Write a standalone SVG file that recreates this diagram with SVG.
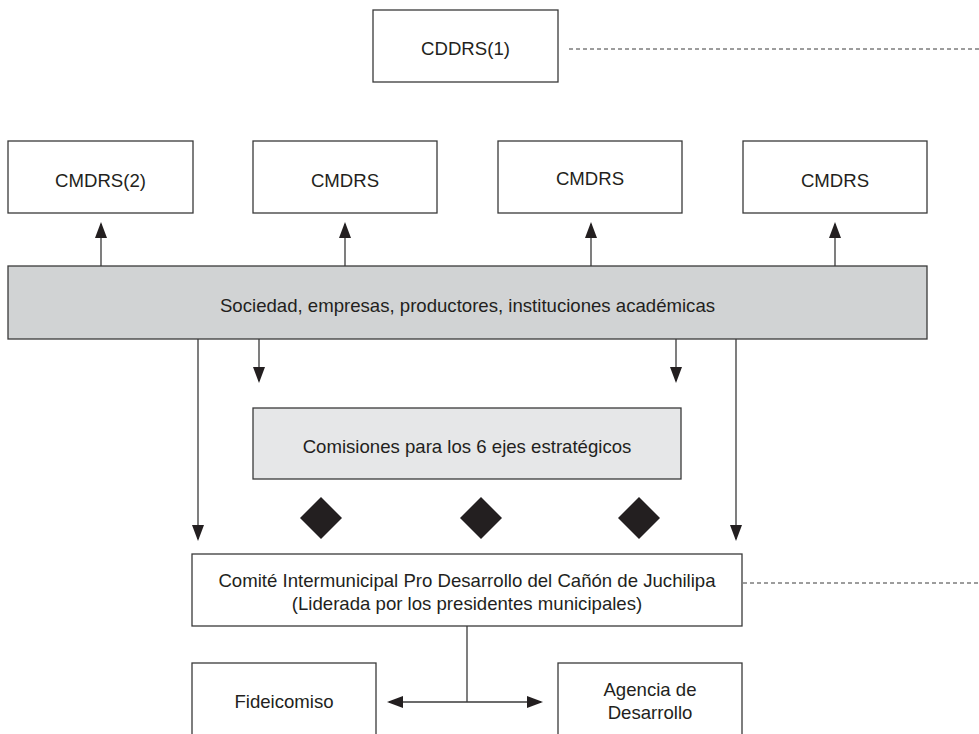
<svg xmlns="http://www.w3.org/2000/svg" width="979" height="734" viewBox="0 0 979 734">
<defs>
<style>
.box{fill:#ffffff;stroke:#3a3a3a;stroke-width:1.3}
.bar{fill:#d1d3d4;stroke:#3a3a3a;stroke-width:1.3}
.lbar{fill:#e6e7e8;stroke:#3a3a3a;stroke-width:1.3}
.t{font-family:"Liberation Sans",Arial,Helvetica,sans-serif;font-size:18.6px;fill:#231f20;text-anchor:middle}
.ln{stroke:#3a3a3a;stroke-width:1.3;fill:none}
.dash{stroke:#3a3a3a;stroke-width:1;stroke-dasharray:4 3;fill:none}
.dia{fill:#231f20}
</style>
<marker id="ah" viewBox="0 0 16 12" refX="14" refY="6" markerWidth="16" markerHeight="12" markerUnits="userSpaceOnUse" orient="auto">
<path d="M0,0 L16,6 L0,12 z" fill="#231f20"/>
</marker>
</defs>
<rect width="979" height="734" fill="#ffffff"/>

<g id="connectors">
<line class="dash" x1="569" y1="49" x2="979" y2="49"/>
<line class="ln" x1="101" y1="266" x2="101" y2="224" marker-end="url(#ah)"/>
<line class="ln" x1="345" y1="266" x2="345" y2="224" marker-end="url(#ah)"/>
<line class="ln" x1="591" y1="266" x2="591" y2="224" marker-end="url(#ah)"/>
<line class="ln" x1="835" y1="266" x2="835" y2="224" marker-end="url(#ah)"/>
<line class="ln" x1="259" y1="339" x2="259" y2="381" marker-end="url(#ah)"/>
<line class="ln" x1="676" y1="339" x2="676" y2="381" marker-end="url(#ah)"/>
<line class="ln" x1="198" y1="339" x2="198" y2="539" marker-end="url(#ah)"/>
<line class="ln" x1="736" y1="339" x2="736" y2="539" marker-end="url(#ah)"/>
<line class="ln" x1="467" y1="626" x2="467" y2="702"/>
<line class="ln" x1="467" y1="702" x2="389" y2="702" marker-end="url(#ah)"/>
<line class="ln" x1="467" y1="702" x2="541" y2="702" marker-end="url(#ah)"/>
<line class="dash" x1="743" y1="583" x2="979" y2="583"/>
</g>

<g id="cddrs">
<rect class="box" x="373" y="10" width="185" height="72"/>
<text class="t" x="465.5" y="55">CDDRS(1)</text>
</g>

<g id="cmdrs1">
<rect class="box" x="8" y="141" width="185" height="72"/>
<text class="t" x="100.5" y="187">CMDRS(2)</text>
</g>
<g id="cmdrs2">
<rect class="box" x="253" y="141" width="184" height="72"/>
<text class="t" x="345" y="187">CMDRS</text>
</g>
<g id="cmdrs3">
<rect class="box" x="498" y="141" width="184" height="72"/>
<text class="t" x="590" y="185">CMDRS</text>
</g>
<g id="cmdrs4">
<rect class="box" x="743" y="141" width="184" height="72"/>
<text class="t" x="835" y="187">CMDRS</text>
</g>

<g id="sociedad">
<rect class="bar" x="8" y="266" width="919" height="73"/>
<text class="t" x="467.5" y="312">Sociedad, empresas, productores, instituciones académicas</text>
</g>

<g id="comisiones">
<rect class="lbar" x="253" y="408" width="428" height="71"/>
<text class="t" x="467" y="453">Comisiones para los 6 ejes estratégicos</text>
</g>

<g id="diamonds">
<polygon class="dia" points="321,497 342,518 321,539 300,518"/>
<polygon class="dia" points="481,497 502,518 481,539 460,518"/>
<polygon class="dia" points="639,497 660,518 639,539 618,518"/>
</g>

<g id="comite">
<rect class="box" x="192" y="554" width="550" height="72"/>
<text class="t" x="467" y="587">Comité Intermunicipal Pro Desarrollo del Cañón de Juchilipa</text>
<text class="t" x="467" y="610">(Liderada por los presidentes municipales)</text>
</g>

<g id="fideicomiso">
<rect class="box" x="192" y="663" width="184" height="90"/>
<text class="t" x="284" y="708">Fideicomiso</text>
</g>

<g id="agencia">
<rect class="box" x="558" y="663" width="184" height="90"/>
<text class="t" x="650" y="696">Agencia de</text>
<text class="t" x="650" y="719">Desarrollo</text>
</g>
</svg>
